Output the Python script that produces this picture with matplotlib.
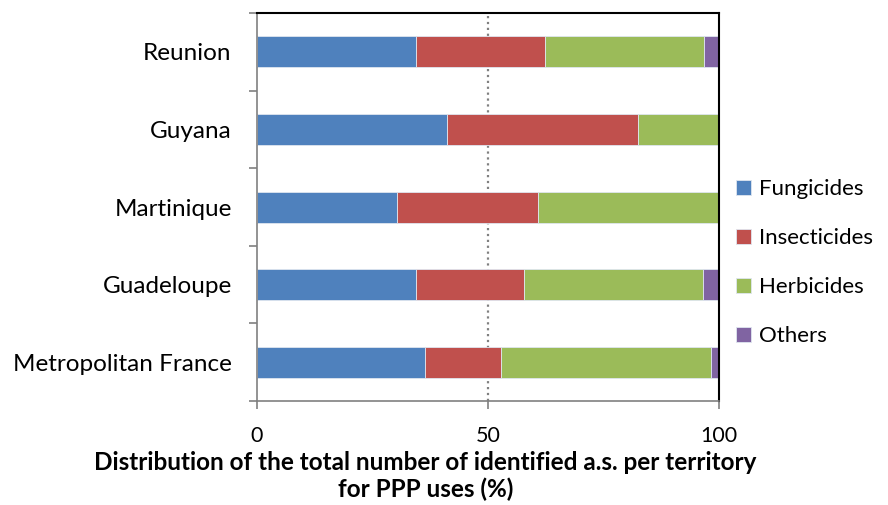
import numpy as np
import matplotlib
matplotlib.use('Agg')
import matplotlib.pyplot as plt

plt.rcParams['font.family'] = ['Lato', 'DejaVu Sans']

territorios = ['Metropolitan France', 'Guadeloupe', 'Martinique', 'Guyana', 'Reunion']
fungicidas = [36.4, 34.5, 30.4, 41.2, 34.5]
inseticidas = [16.4, 23.3, 30.4, 41.3, 27.8]
herbicidas = [45.5, 38.7, 39.2, 17.5, 34.4]
outros = [1.7, 3.5, 0.0, 0.0, 3.3]

series = [('Fungicides', fungicidas, '#4F81BD'),
          ('Insecticides', inseticidas, '#C0504D'),
          ('Herbicides', herbicidas, '#9BBB59'),
          ('Others', outros, '#8064A2')]

fig = plt.figure(figsize=(8.88, 5.05), dpi=100)
ax = fig.add_axes([0.289, 0.206, 0.5205, 0.768])

y = np.arange(len(territorios))
esquerda = np.zeros(len(territorios))
for nome, valores, cor in series:
    ax.barh(y, valores, left=esquerda, height=0.4, color=cor, label=nome,
            edgecolor='#dfe6f0', linewidth=0.6)
    esquerda += np.array(valores)

# linha pontilhada em 50%
ax.axvline(50, color='#808080', linestyle=':', linewidth=1.6, zorder=0)

ax.set_xlim(0, 100)
ax.set_ylim(-0.5, len(territorios) - 0.5)
ax.set_xticks([0, 50, 100])
ax.tick_params(axis='x', direction='out', length=6, color='#808080', width=1.2,
               labelsize=15.5, pad=12)
ax.set_yticks(y)
ax.set_yticklabels(territorios)
ax.set_yticks(np.arange(-0.5, len(territorios)), minor=True)
ax.tick_params(axis='y', which='major', length=0, labelsize=17.5, pad=18)
ax.tick_params(axis='y', which='minor', direction='out', length=6, color='#808080', width=1.2)

for lado in ['left', 'bottom']:
    ax.spines[lado].set_color('#808080')
    ax.spines[lado].set_linewidth(1.2)
for lado in ['top', 'right']:
    ax.spines[lado].set_color('black')
    ax.spines[lado].set_linewidth(1.5)

fig.text(0.479, 0.057, 'Distribution of the total number of identified a.s. per territory\nfor PPP uses (%)',
         ha='center', va='center', fontsize=17.5, fontweight='bold', linespacing=1.2)

fig.legend(loc='center left', bbox_to_anchor=(0.829, 0.48), frameon=False,
           borderpad=0, borderaxespad=0,
           fontsize=16, handlelength=0.65, handleheight=0.65, handletextpad=0.4,
           labelspacing=1.3)

fig.savefig('out.png', dpi=100)
